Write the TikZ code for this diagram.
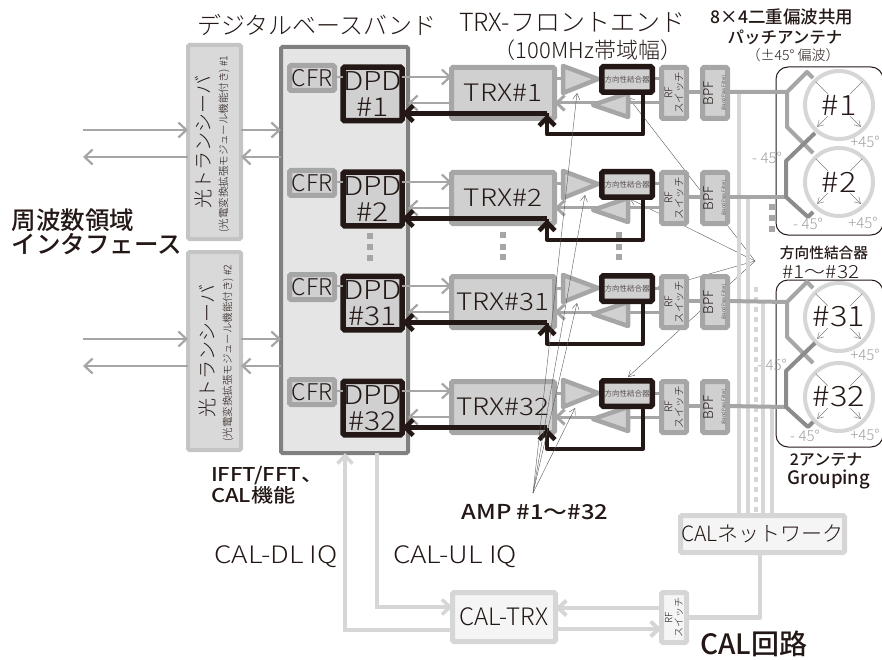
\documentclass[tikz,border=0pt]{standalone}
\usepackage{fontspec}
\setmainfont{Noto Sans CJK JP Light}[BoldFont={Noto Sans CJK JP Medium}]
\newfontfamily\widefont{Noto Sans CJK JP Light}[FakeStretch=1.16,BoldFont={Noto Sans CJK JP Medium},BoldFeatures={FakeStretch=1.16}]
\usetikzlibrary{arrows.meta,positioning}
\definecolor{inkc}{HTML}{231815}
\definecolor{linec}{HTML}{A6A6A6}
\definecolor{feedc}{HTML}{8C8C8C}
\definecolor{boxc}{HTML}{D0D0D0}
\definecolor{calc}{HTML}{D6D6D6}
\newcommand{\fsz}[1]{\fontsize{#1}{#1}\selectfont}
\tikzset{
  box/.style={draw=linec,fill=boxc,line width=5pt,rounded corners=1.5pt,align=center},
  blackbox/.style={box,draw=inkc,line width=5.5pt},
  calbox/.style={box,draw=calc,fill=black!4},
  optbox/.style={box,draw=black!23,fill=black!15,line width=4pt,minimum width=53pt},
  sig/.style={->,draw=linec,line width=2.2pt},
  fbk/.style={->,>={Straight Barb[length=8pt,width=16pt]},draw=inkc,line width=4.5pt},
  cal/.style={draw=calc,line width=3.5pt},
  amp/.style={draw=linec,fill=boxc,line width=4.5pt,line join=round},
  leader/.style={<-,>={Straight Barb[length=6pt,width=7pt]},draw=black!65,line width=.4pt},
  deg/.style={text=black!38,font=\fsz{15}},
  pt/.style={draw=black!50,line width=.5pt},
}
\begin{document}
\begin{tikzpicture}[x=1pt,y=-1pt,>={Straight Barb[length=8pt,width=15pt]},
  every node/.style={inner sep=0pt,outer sep=0pt,text=inkc}]
\useasboundingbox (0,0) rectangle (882,660);
% titles
\node (dbbt) at (317,25) [font=\fsz{24}] {デジタルベースバンド};
\node (trxt) at (572,22) [font=\fsz{25}] {TRX-フロントエンド};
\node (bwt) at (588,50) [font=\fsz{22}] {（100MHz帯域幅）};
\node (antt) at (782,17) [font=\bfseries\fsz{17.5}] {8×4二重偏波共用};
\node (antu) at (785,37) [font=\bfseries\fsz{16.5}] {パッチアンテナ};
\node (antv) at (793,55) [font=\fsz{14}] {（±45° 偏波）};
\node (ift) at (97,232) [font=\bfseries\fsz{24.5},align=left] {周波数領域\\インタフェース};
% optical transceivers
\node (opt1) at (214.5,142) [optbox,minimum height=194pt] {};
\node (opt2) at (214.5,351) [optbox,minimum height=198pt] {};
\foreach \r/\x/\y in {1/203/142,2/207/351}{
  \node (optl\r) at (\x,\y) [rotate=90,font=\fsz{19}] {光トランシーバ};
  \node (opts\r) at (\x+21,\y+2) [rotate=90,font=\fsz{10.5}] {(光電変換拡張モジュール機能付き) \#\r};
}
% baseband block
\node (bb) at (344.5,250) [box,draw=black!50,fill=black!10,line width=4pt,minimum width=127pt,minimum height=406pt] {};
\foreach \r/\y in {1/130,2/339}{
  \coordinate (rx\r) at (83,\y);
  \coordinate (tx\r) at (83,\y+27);
  \draw[sig] (rx\r) -- (opt\r.west|-rx\r);
  \draw[sig] (opt\r.east|-rx\r) -- (bb.west|-rx\r);
  \draw[sig] (bb.west|-tx\r) -- (opt\r.east|-tx\r);
  \draw[sig] (opt\r.west|-tx\r) -- (tx\r);
}
% leaders to the directional couplers
\node (cplt) at (824,253) [font=\bfseries\fsz{14.7}] {方向性結合器};
\node (cplu) at (821,272) [font=\widefont\fsz{18}] {\#1～\#32};
\coordinate (cplpt) at (755,261);
\foreach \r/\x/\y in {1/628/97,2/630/199,31/656/289,32/628/377}{
  \coordinate (cplt\r) at (\x,\y);
  \draw[leader] (cplt\r) -- (cplpt);
}
% CAL network and its lines
\node (calnet) at (762.5,534) [calbox,minimum width=164pt,minimum height=37pt,font=\fsz{21}] {CALネットワーク};
\foreach \x/\y in {739/92,748/197,763/302,772/407}
  \draw[cal] (\x,\y) -- (calnet.north-|\x,\y);
\draw[cal,dash pattern=on 5pt off 5pt] (756,287) -- (calnet.north-|756,287);
% one row per DPD and TRX
\foreach \r/\ty in {1/65,2/170,31/274,32/379}{
  \node (cfr\r) at (312,\ty+13) [box,minimum width=45pt,minimum height=25pt,font=\fsz{23}] {CFR};
  \node (dpd\r) at (372.5,\ty+29) [blackbox,minimum width=55.5pt,minimum height=53.5pt,font=\fsz{26}\widefont] {DPD\\\#\r};
  \node (trx\r) at (503,\ty+28) [box,minimum width=103pt,minimum height=51pt,font=\fsz{24}\widefont] {TRX\#\r};
  \node (rf\r) at (674,\ty+28) [box,minimum width=25pt,minimum height=51pt] {};
  \node (rfl\r) at (674,\ty+28) [rotate=90,align=center,font=\fsz{10.5}] {RF\\スイッチ};
  \node (bpf\r) at (715,\ty+28) [box,minimum width=25pt,minimum height=51pt] {};
  \node (bpfl\r) at (715,\ty+28) [rotate=90,align=center,font=\fsz{13.5}] {BPF\\[-2pt]{\fsz{4.5}(Band Pass Filter)}};
  \coordinate (up\r) at (0,\ty+12);
  \coordinate (dn\r) at (0,\ty+38);
  \coordinate (cp\r) at (0,\ty+48.5);
  \coordinate (fb\r) at (547,\ty+69.5);
  \coordinate (fd\r) at (0,\ty+27);
  \draw[draw=linec,line width=2pt] (cfr\r.east|-up\r) -- (dpd\r.west|-up\r);
  \draw[sig] (dpd\r.east|-up\r) -- (trx\r.west|-up\r);
  \draw[sig] (trx\r.west|-dn\r) -- (bb.east|-dn\r);
  \draw[linec,line width=3pt] (trx\r.east|-0,\ty+14) -- (rf\r.west|-0,\ty+14);
  \draw[sig,line width=3pt] (rf\r.west|-dn\r) -- (trx\r.east|-dn\r);
  \draw[amp] (563,\ty+1) -- (563,\ty+28) -- (598,\ty+14) -- cycle;
  \draw[amp] (628,\ty+28) -- (628,\ty+52) -- (593,\ty+40) -- cycle;
  \node (cpl\r) at (627,\ty+14.5) [blackbox,minimum width=50.5pt,minimum height=25.5pt,font=\fsz{7.5}] {方向性結合器};
  \draw[inkc,line width=4pt,line join=round] (cpl\r.south-|643,0) |- (fb\r) -- (fb\r|-cp\r);
  \draw[fbk] (fb\r) -- ++(0,-20);
  \draw[fbk] (fb\r|-cp\r) -- (dpd\r.east|-cp\r);
  \draw[linec,line width=4pt] (rf\r.east|-fd\r) -- (bpf\r.west|-fd\r);
}
% dots between rows
\foreach \x/\y in {370/236,370/247,370/258,503/235,503/247,503/257,619/235,619/247,619/257,772/207,772/218,772/229}
  \fill[linec] (\x-3,\y-3) rectangle +(6,6);
% antenna groups
\node (grp1) at (829.5,151) [draw=inkc,line width=1pt,rounded corners=12pt,minimum width=107pt,minimum height=168pt] {};
\node (grp2) at (829.5,363.5) [draw=inkc,line width=1pt,rounded corners=12pt,minimum width=107pt,minimum height=167pt] {};
\foreach \r/\y/\ty in {1/105/0,2/182/0,31/317/211,32/397/211}{
  \node (ant\r) at (839,\y) [circle,draw=calc,line width=4pt,minimum size=68pt,font=\fsz{28}\widefont] {\#\r};
  \foreach \a in {135,45}
    \draw[->,>={Straight Barb[length=6pt,width=7pt]},pt] ([shift={(\a:16)}]ant\r.center) -- ([shift={(\a:31)}]ant\r.center);
  \foreach \a in {-135,-45}
    \draw[pt] ([shift={(\a:16)}]ant\r.center) -- ([shift={(\a:33)}]ant\r.center);
}
\foreach \g/\a/\b/\dy in {1/1/2/0,2/31/32/210}{
  \draw[linec,line width=4pt,line join=round] (bpf\a.east|-fd\a) -- (787,92+\dy) -- (807,72+\dy) -- (813,78+\dy)
    (787,92+\dy) -- (787,127+\dy) -- (813,153+\dy);
  \draw[linec,line width=4pt] (bpf\b.east|-fd\b) -- (786,197+\dy);
  \draw[feedc,line width=4pt,line join=round] (815,133+\dy) -- (786,161+\dy) -- (786,197+\dy) -- (808,217+\dy) -- (813,212+\dy);
}
\foreach \n/\x/\y/\t in {a/865/142/+45°,b/767/158/- 45°,c/808/224/- 45°,d/863/223/+45°,e/865/355/+45°,f/772/365/- 45°,g/805/436/- 45°,h/865/435/+45°}
  \node (deg\n) at (\x,\y) [deg] {\t};
% amplifier leaders and text
\node (grpt) at (826,460) [font=\bfseries\fsz{16}] {2アンテナ};
\node (grpu) at (829,479) [font=\bfseries\fsz{18.5}] {Grouping};
\node (iff) at (211,485) [anchor=west,align=left,font=\widefont\bfseries\fsz{19}] {IFFT/FFT、\\CAL機能};
\node (ampt) at (535,512) [font=\widefont\bfseries\fsz{20.5}] {AMP \#1～\#32};
\coordinate (amppt) at (533,493);
\foreach \r/\x/\y in {1/577/93,2/585/195,31/577/303,32/575/408}{
  \coordinate (ampt\r) at (\x,\y);
  \draw[leader] (ampt\r) -- (amppt);
}
% CAL circuit
\node (dlt) at (276,557) [font=\widefont\fsz{24}] {CAL-DL IQ};
\node (ult) at (455,557) [font=\widefont\fsz{24}] {CAL-UL IQ};
\node (caltrx) at (504,617) [calbox,minimum width=103pt,minimum height=49pt,font=\fsz{24}] {CAL-TRX};
\node (calrf) at (674,617.5) [calbox,minimum width=25pt,minimum height=50pt] {};
\node (calrfl) at (674,617.5) [rotate=90,align=center,font=\fsz{10}] {RF\\スイッチ};
\node (calt) at (754,644) [font=\bfseries\fsz{28}] {CAL回路};
\coordinate (dlup) at (345,630);
\coordinate (ulin) at (377,607);
\coordinate (calup) at (0,608);
\coordinate (caldn) at (0,629);
\draw[->,cal] (caltrx.west|-dlup) -- (dlup) -- (bb.south-|dlup);
\draw[->,cal] (bb.south-|ulin) -- (ulin) -- (caltrx.west|-ulin);
\draw[->,cal,line width=4pt] (calrf.west|-calup) -- (caltrx.east|-calup);
\draw[->,cal,line width=4pt] (caltrx.east|-caldn) -- (calrf.west|-caldn);
\draw[cal,line width=4.5pt,line join=round] (calnet.south-|760,0) |- (calrf.east);
\end{tikzpicture}
\end{document}
